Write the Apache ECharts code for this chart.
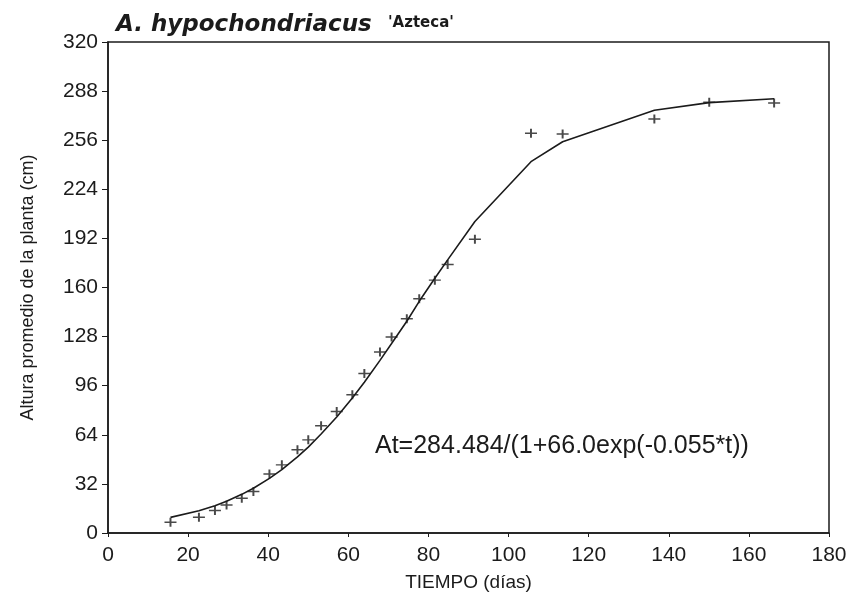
<!DOCTYPE html>
<html>
<head>
<meta charset="utf-8">
<script src="https://cdn.jsdelivr.net/npm/echarts@6/dist/echarts.min.js"></script>
<style>
html,body{margin:0;padding:0;background:#fff;}
#c{width:855px;height:598px;}
</style>
</head>
<body>
<div id="c"></div>
<script>
// Observed data (días, cm)
const obsDays = [15.6,22.7,26.7,29.6,33.4,36.3,40.3,43.4,47.3,50.0,53.2,57.1,61.0,64.0,67.9,70.8,74.6,77.7,81.6,84.8,91.6,105.6,113.5,136.4,150.1,166.3];
const obsHeight = [7.0,10.2,14.6,18.3,22.7,27.0,38.5,44.4,54.2,60.7,69.9,79.2,90.1,103.9,118.0,127.8,139.6,152.6,164.8,175.0,191.4,260.6,260.0,269.8,280.7,280.2];
// Fitted curve
const fitDays = [15.6,22.7,26.7,29.6,33.4,36.3,40.3,43.4,47.3,50.0,53.2,57.1,61.0,64.0,67.9,70.8,74.6,77.7,81.6,84.8,91.6,105.6,113.5,136.4,150.1,166.3];
const fitHeight = [10.2,14.5,17.8,20.7,25.2,29.2,35.6,41.3,49.6,56.0,64.5,75.6,88.0,98.3,112.5,123.5,138.0,151.0,166.0,178.0,203.0,242.0,255.0,275.5,280.5,283.0];
const xTicks = [0,20,40,60,80,100,120,140,160,180];
const yTicks = [0,32,64,96,128,160,192,224,256,288,320];
const titleMain = 'A. hypochondriacus';
const titleCultivar = "'Azteca'";
const equation = 'At=284.484/(1+66.0exp(-0.055*t))';

const ink = '#1b1b1b';
const font = '"Liberation Sans", Arial, sans-serif';
const wide = '"DejaVu Sans", Verdana, sans-serif';

const chart = echarts.init(document.getElementById('c'), null, {renderer:'canvas'});
chart.setOption({
  backgroundColor:'#fff',
  animation:false,
  textStyle:{fontFamily:font},
  title:{
    text:titleMain,
    left:116, top:14, padding:0,
    textStyle:{fontFamily:wide,fontSize:23,fontWeight:'bold',fontStyle:'italic',color:ink}
  },
  grid:{left:108,top:42,right:26,bottom:65,show:true,borderColor:ink,borderWidth:1.5,backgroundColor:'transparent'},
  xAxis:{
    type:'value',min:xTicks[0],max:xTicks[xTicks.length-1],interval:20,
    name:'TIEMPO (días)',nameLocation:'middle',nameGap:40,
    nameTextStyle:{fontFamily:font,fontSize:19,color:ink},
    axisLine:{show:true,lineStyle:{color:ink,width:1.5}},
    axisTick:{show:true,inside:false,length:4,lineStyle:{color:ink}},
    axisLabel:{fontFamily:font,fontSize:21,color:ink,margin:12,
      formatter:v=>xTicks.includes(v)?String(v):''},
    splitLine:{show:false}
  },
  yAxis:{
    type:'value',min:yTicks[0],max:yTicks[yTicks.length-1],interval:32,
    name:'Altura promedio de la planta (cm)',nameLocation:'middle',nameGap:71,
    nameTextStyle:{fontFamily:font,fontSize:18,color:ink},
    axisLine:{show:true,lineStyle:{color:ink,width:1.5}},
    axisTick:{show:true,inside:false,length:6,lineStyle:{color:ink}},
    axisLabel:{fontFamily:font,fontSize:21,color:ink,margin:10,
      formatter:v=>yTicks.includes(v)?String(v):''},
    splitLine:{show:false}
  },
  graphic:[
    {type:'text',left:388,top:16,
     style:{text:titleCultivar,fontFamily:wide,fontSize:15,fontWeight:'bold',fill:ink}},
    {type:'text',left:375,top:434,
     style:{text:equation,fontFamily:font,fontSize:25,fill:ink}}
  ],
  series:[
    {
      type:'line',
      data:fitDays.map((d,i)=>[d,fitHeight[i]]),
      showSymbol:false,symbol:'none',
      lineStyle:{color:ink,width:1.6},
      z:2
    },
    {
      type:'scatter',
      data:obsDays.map((d,i)=>[d,obsHeight[i]]),
      symbol:'path://M0,4L12,4M6,0L6,8',
      symbolSize:[12,9],
      itemStyle:{color:'none',borderColor:ink,borderWidth:1.7},
      z:3
    }
  ]
});
</script>
</body>
</html>
